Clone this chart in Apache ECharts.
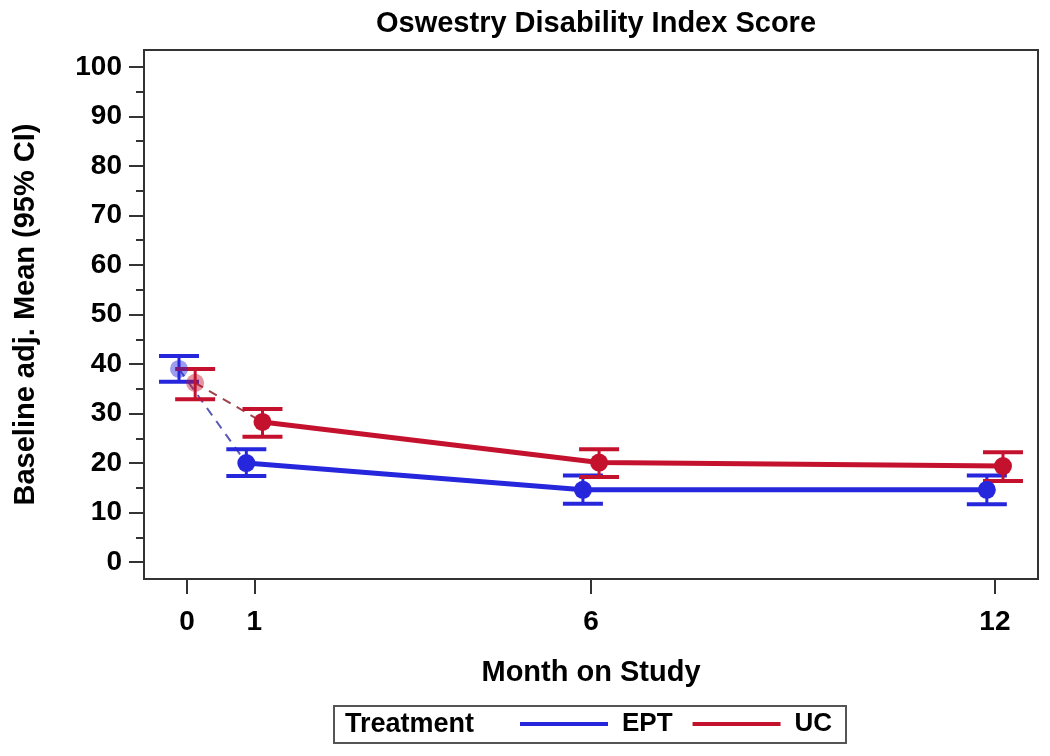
<!DOCTYPE html>
<html>
<head>
<meta charset="utf-8">
<script src="https://cdn.jsdelivr.net/npm/echarts@6/dist/echarts.min.js"></script>
<style>html,body{margin:0;padding:0;background:#fff}#c{width:1050px;height:756px}</style>
</head>
<body>
<div id="c"></div>
<script>
var months = [0, 1, 6, 12];
var xTickLabels = [0, 1, 6, 12];
var yTickLabels = [0, 10, 20, 30, 40, 50, 60, 70, 80, 90, 100];
var yMinorTicks = [5, 15, 25, 35, 45, 55, 65, 75, 85, 95];
var eptMean  = [39.0, 20.0, 14.6, 14.6];
var eptLower = [36.4, 17.4, 11.8, 11.7];
var eptUpper = [41.6, 22.8, 17.5, 17.5];
var ucMean   = [36.2, 28.3, 20.1, 19.4];
var ucLower  = [32.9, 25.3, 17.2, 16.4];
var ucUpper  = [39.0, 30.9, 22.8, 22.2];

var FONT = "'Liberation Sans', Arial, sans-serif";
var BLUE = '#2626dc';
var RED = '#c4122e';
var EPT_OFF = -0.12, UC_OFF = 0.12;

function pts(mean, off, from, to) {
  var out = [];
  for (var i = from; i <= to; i++) out.push([months[i] + off, mean[i]]);
  return out;
}
function ebData(lo, hi, off) {
  return months.map(function (m, i) { return [m + off, lo[i], hi[i]]; });
}
function errRender(color) {
  return function (params, api) {
    var x = api.value(0);
    var a = api.coord([x, api.value(1)]);
    var b = api.coord([x, api.value(2)]);
    var hw = 20;
    return {
      type: 'group',
      children: [
        { type: 'line', shape: { x1: a[0], y1: a[1], x2: b[0], y2: b[1] }, style: { stroke: color, lineWidth: 3 } },
        { type: 'line', shape: { x1: a[0] - hw, y1: a[1], x2: a[0] + hw, y2: a[1] }, style: { stroke: color, lineWidth: 4 } },
        { type: 'line', shape: { x1: b[0] - hw, y1: b[1], x2: b[0] + hw, y2: b[1] }, style: { stroke: color, lineWidth: 4 } }
      ]
    };
  };
}
function markerData(mean, off) {
  return months.map(function (m, i) {
    return { value: [m + off, mean[i]], itemStyle: { opacity: i === 0 ? 0.45 : 1 } };
  });
}

var chart = echarts.init(document.getElementById('c'));
chart.setOption({
  animation: false,
  title: {
    text: 'Oswestry Disability Index Score',
    left: 591, top: 4, textAlign: 'center',
    textStyle: { fontFamily: FONT, fontWeight: 'bold', fontSize: 29, color: '#000' }
  },
  grid: { left: 144, right: 12, top: 50, bottom: 177, show: true, borderColor: '#333', borderWidth: 2, backgroundColor: 'transparent' },
  legend: {
    data: ['EPT', 'UC'],
    left: 520, top: 711, padding: 0,
    icon: 'rect', itemWidth: 88, itemHeight: 4, itemGap: 20,
    textStyle: { fontFamily: FONT, fontWeight: 'bold', fontSize: 26, color: '#000', padding: [0, 0, 0, 9] }
  },
  graphic: [
    { type: 'rect', shape: { x: 334, y: 706, width: 512, height: 37 }, style: { fill: 'none', stroke: '#555', lineWidth: 2 } },
    { type: 'text', x: 345, y: 725, style: { text: 'Treatment', fontFamily: FONT, fontWeight: 'bold', fontSize: 27, fill: '#000', verticalAlign: 'middle' } }
  ],
  xAxis: {
    type: 'value', min: -0.64, max: 12.64,
    name: 'Month on Study', nameLocation: 'middle', nameGap: 79,
    nameTextStyle: { fontFamily: FONT, fontWeight: 'bold', fontSize: 29, color: '#000' },
    axisLine: { show: true, onZero: false, lineStyle: { color: '#333', width: 2 } },
    axisTick: { show: true, customValues: xTickLabels, length: 15, lineStyle: { color: '#333', width: 2 } },
    axisLabel: { customValues: xTickLabels, margin: 29, fontFamily: FONT, fontWeight: 'bold', fontSize: 28, color: '#000' },
    splitLine: { show: false }
  },
  yAxis: [{
    type: 'value', min: -3.4, max: 103.4,
    name: 'Baseline adj. Mean (95% CI)', nameLocation: 'middle', nameGap: 104,
    nameTextStyle: { fontFamily: FONT, fontWeight: 'bold', fontSize: 29, color: '#000' },
    axisLine: { show: true, onZero: false, lineStyle: { color: '#333', width: 2 } },
    axisTick: { show: true, customValues: yTickLabels, length: 15, lineStyle: { color: '#333', width: 2 } },
    axisLabel: { customValues: yTickLabels, margin: 22, fontFamily: FONT, fontWeight: 'bold', fontSize: 28, color: '#000' },
    splitLine: { show: false }
  }, {
    type: 'value', min: -3.4, max: 103.4, position: 'left',
    axisLine: { show: false, onZero: false },
    axisTick: { show: true, customValues: yMinorTicks, length: 8, lineStyle: { color: '#333', width: 2 } },
    axisLabel: { show: false, customValues: yMinorTicks },
    splitLine: { show: false }
  }],
  series: [
    { name: 'EPT dash', type: 'line', data: pts(eptMean, EPT_OFF, 0, 1), showSymbol: false, lineStyle: { color: '#5a5ab8', width: 2, type: [9, 7] }, z: 2 },
    { name: 'UC dash', type: 'line', data: pts(ucMean, UC_OFF, 0, 1), showSymbol: false, lineStyle: { color: '#a0424a', width: 2, type: [9, 7] }, z: 2 },
    { name: 'EPT', type: 'line', data: pts(eptMean, EPT_OFF, 1, 3), showSymbol: false, color: BLUE, lineStyle: { color: BLUE, width: 5 }, z: 3 },
    { name: 'UC', type: 'line', data: pts(ucMean, UC_OFF, 1, 3), showSymbol: false, color: RED, lineStyle: { color: RED, width: 5 }, z: 3 },
    { name: 'EPT ci', type: 'custom', data: ebData(eptLower, eptUpper, EPT_OFF), renderItem: errRender(BLUE), encode: { x: 0, y: [1, 2] }, z: 4 },
    { name: 'UC ci', type: 'custom', data: ebData(ucLower, ucUpper, UC_OFF), renderItem: errRender(RED), encode: { x: 0, y: [1, 2] }, z: 4 },
    { name: 'EPT pt', type: 'scatter', data: markerData(eptMean, EPT_OFF), symbol: 'circle', symbolSize: 18, itemStyle: { color: BLUE }, z: 5 },
    { name: 'UC pt', type: 'scatter', data: markerData(ucMean, UC_OFF), symbol: 'circle', symbolSize: 18, itemStyle: { color: RED }, z: 5 }
  ]
});
</script>
</body>
</html>
